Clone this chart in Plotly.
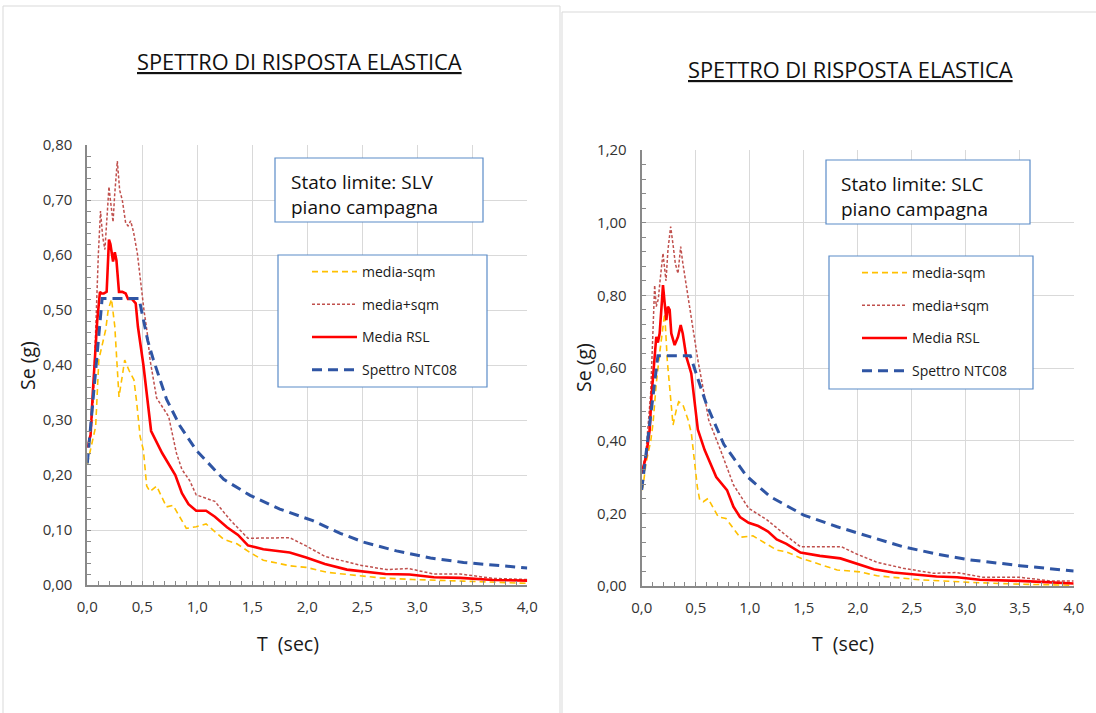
import plotly.graph_objects as go

# ---------------- DATA ----------------
# Left chart: Stato limite SLV
L_T_minus = [0, 0.03, 0.076, 0.105, 0.14, 0.167, 0.19, 0.22, 0.25, 0.27, 0.288, 0.318, 0.34, 0.38, 0.424,
             0.45, 0.48, 0.51, 0.54, 0.57, 0.63, 0.72, 0.78, 0.90, 0.99, 1.08, 1.24, 1.36, 1.48, 1.60, 1.84,
             1.99, 2.18, 2.66, 2.96, 3.42, 4.0]
L_V_minus = [0.22, 0.245, 0.288, 0.41, 0.44, 0.464, 0.50, 0.52, 0.47, 0.40, 0.342, 0.38, 0.409, 0.39, 0.373,
             0.33, 0.27, 0.245, 0.18, 0.17, 0.18, 0.142, 0.145, 0.103, 0.106, 0.111, 0.083, 0.075, 0.059, 0.045,
             0.035, 0.032, 0.023, 0.013, 0.010, 0.007, 0.003]

L_T_plus = [0, 0.03, 0.055, 0.08, 0.10, 0.12, 0.14, 0.16, 0.197, 0.21, 0.234, 0.249, 0.273, 0.294, 0.318,
            0.349, 0.37, 0.394, 0.42, 0.455, 0.485, 0.515, 0.545, 0.57, 0.63, 0.74, 0.81, 0.86, 0.93, 0.99,
            1.16, 1.30, 1.46, 1.84, 1.99, 2.16, 2.48, 2.72, 2.92, 3.15, 3.39, 3.69, 4.0]
L_V_plus = [0.25, 0.27, 0.34, 0.50, 0.60, 0.68, 0.633, 0.61, 0.724, 0.70, 0.66, 0.71, 0.771, 0.718, 0.70,
            0.658, 0.653, 0.662, 0.642, 0.603, 0.548, 0.50, 0.458, 0.41, 0.34, 0.306, 0.24, 0.21, 0.19, 0.164,
            0.152, 0.118, 0.085, 0.086, 0.071, 0.052, 0.036, 0.028, 0.030, 0.020, 0.020, 0.012, 0.010]

L_T_rsl = [0, 0.03, 0.05, 0.075, 0.09, 0.115, 0.13, 0.15, 0.176, 0.197, 0.21, 0.234, 0.25, 0.265, 0.288,
           0.318, 0.349, 0.37, 0.405, 0.44, 0.46, 0.51, 0.58, 0.68, 0.80, 0.86, 0.92, 0.99, 1.08, 1.16, 1.27,
           1.37, 1.46, 1.60, 1.84, 1.99, 2.16, 2.36, 2.71, 2.93, 3.15, 3.39, 3.69, 4.0]
L_V_rsl = [0.25, 0.273, 0.35, 0.43, 0.48, 0.533, 0.53, 0.53, 0.533, 0.628, 0.62, 0.588, 0.605, 0.59, 0.533,
           0.533, 0.53, 0.52, 0.52, 0.512, 0.47, 0.40, 0.28, 0.24, 0.20, 0.167, 0.147, 0.135, 0.135, 0.124,
           0.105, 0.091, 0.072, 0.065, 0.059, 0.050, 0.038, 0.028, 0.020, 0.019, 0.014, 0.013, 0.009, 0.008]

L_T_ntc = [0, 0.135, 0.47, 0.515, 0.55, 0.6, 0.72, 0.84, 0.99, 1.24, 1.48, 1.75, 2.05, 2.30, 2.51, 2.81,
           3.12, 3.42, 3.93, 4.0]
L_V_ntc = [0.221, 0.521, 0.521, 0.475, 0.444, 0.41, 0.338, 0.29, 0.245, 0.192, 0.163, 0.138, 0.117, 0.094,
           0.078, 0.062, 0.049, 0.041, 0.032, 0.031]

# Right chart: Stato limite SLC
R_T_minus = [0, 0.012, 0.04, 0.084, 0.105, 0.135, 0.17, 0.213, 0.237, 0.26, 0.275, 0.29, 0.32, 0.342, 0.38,
             0.43, 0.46, 0.484, 0.515, 0.537, 0.57, 0.614, 0.71, 0.78, 0.91, 1.03, 1.25, 1.34, 1.48, 1.81,
             2.02, 2.18, 2.58, 3.04, 3.50, 4.0]
R_V_minus = [0.264, 0.273, 0.338, 0.40, 0.448, 0.558, 0.65, 0.75, 0.62, 0.549, 0.494, 0.443, 0.484, 0.507,
             0.50, 0.457, 0.42, 0.356, 0.273, 0.237, 0.232, 0.241, 0.19, 0.186, 0.134, 0.138, 0.099, 0.094,
             0.076, 0.044, 0.039, 0.028, 0.017, 0.010, 0.005, 0.002]

R_T_plus = [0, 0.04, 0.083, 0.12, 0.135, 0.154, 0.17, 0.197, 0.21, 0.225, 0.243, 0.268, 0.29, 0.311, 0.336,
            0.361, 0.38, 0.429, 0.475, 0.52, 0.583, 0.62, 0.73, 0.85, 0.99, 1.16, 1.37, 1.47, 1.85, 1.99,
            2.18, 2.42, 2.70, 2.92, 3.16, 3.50, 3.78, 4.0]
R_V_plus = [0.31, 0.37, 0.53, 0.828, 0.769, 0.79, 0.84, 0.916, 0.88, 0.84, 0.925, 0.989, 0.94, 0.888, 0.86,
            0.934, 0.89, 0.796, 0.696, 0.622, 0.521, 0.457, 0.374, 0.278, 0.214, 0.182, 0.131, 0.108, 0.108,
            0.088, 0.065, 0.049, 0.035, 0.037, 0.024, 0.024, 0.014, 0.014]

R_T_rsl = [0, 0.04, 0.074, 0.09, 0.12, 0.135, 0.15, 0.166, 0.188, 0.197, 0.21, 0.228, 0.243, 0.259, 0.274,
           0.305, 0.336, 0.361, 0.38, 0.413, 0.459, 0.49, 0.52, 0.583, 0.69, 0.79, 0.85, 0.91, 0.99, 1.08,
           1.17, 1.25, 1.34, 1.47, 1.65, 1.84, 1.99, 2.15, 2.33, 2.73, 2.92, 3.13, 3.50, 4.0]
R_V_rsl = [0.31, 0.356, 0.43, 0.52, 0.631, 0.686, 0.67, 0.695, 0.787, 0.828, 0.787, 0.732, 0.769, 0.76, 0.695,
           0.663, 0.686, 0.718, 0.695, 0.631, 0.585, 0.512, 0.43, 0.374, 0.30, 0.264, 0.218, 0.19, 0.174,
           0.165, 0.150, 0.128, 0.116, 0.092, 0.083, 0.076, 0.062, 0.046, 0.037, 0.026, 0.024, 0.017, 0.014,
           0.007]

R_T_ntc = [0, 0.15, 0.45, 0.49, 0.537, 0.60, 0.76, 0.97, 1.19, 1.50, 1.81, 2.11, 2.42, 2.73, 3.04, 3.50, 4.0]
R_V_ntc = [0.265, 0.634, 0.634, 0.60, 0.555, 0.50, 0.39, 0.303, 0.246, 0.195, 0.163, 0.136, 0.108, 0.088,
           0.072, 0.056, 0.041]

SERIES_NAMES = ["media-sqm", "media+sqm", "Media RSL", "Spettro NTC08"]
X_TICKS = [0, 0.5, 1.0, 1.5, 2.0, 2.5, 3.0, 3.5, 4.0]
TITLE = "SPETTRO DI RISPOSTA ELASTICA"
X_TITLE = "T\u00a0\u00a0(sec)"
Y_TITLE = "Se (g)"
BOX_LEFT = "Stato limite: SLV<br>piano campagna"
BOX_RIGHT = "Stato limite: SLC<br>piano campagna"

# ---------------- STYLE ----------------
W, H = 1096, 713
FONT = "Open Sans"
STYLES = [
    dict(color="#FFC000", width=1.6, dash="6px,4px"),
    dict(color="#C0504D", width=1.5, dash="3px,2px"),
    dict(color="#FF0000", width=2.6, dash="solid"),
    dict(color="#2F55A4", width=3, dash="10px,6px"),
]


def px(x):
    return x / W


def py(y):
    return 1 - y / H


fig = go.Figure()

left_data = [(L_T_minus, L_V_minus), (L_T_plus, L_V_plus), (L_T_rsl, L_V_rsl), (L_T_ntc, L_V_ntc)]
right_data = [(R_T_minus, R_V_minus), (R_T_plus, R_V_plus), (R_T_rsl, R_V_rsl), (R_T_ntc, R_V_ntc)]

for i, ((t, v), st) in enumerate(zip(left_data, STYLES)):
    fig.add_trace(go.Scatter(x=t, y=v, mode="lines", name=SERIES_NAMES[i], line=st,
                             xaxis="x", yaxis="y", legend="legend", legendgroup="L%d" % i,
                             hoverinfo="skip"))
for i, ((t, v), st) in enumerate(zip(right_data, STYLES)):
    fig.add_trace(go.Scatter(x=t, y=v, mode="lines", name=SERIES_NAMES[i], line=st,
                             xaxis="x2", yaxis="y2", legend="legend2", legendgroup="R%d" % i,
                             hoverinfo="skip"))

tickfont = dict(family=FONT, size=15, color="#333333")


def xax(domain, anchor):
    return dict(domain=domain, anchor=anchor, range=[0, 4], tickvals=X_TICKS, tickformat=".1f",
                showgrid=True, gridcolor="#d9d9d9", gridwidth=1, zeroline=False,
                showline=True, linecolor="#898989", linewidth=2,
                ticks="inside", ticklen=4, tickcolor="#898989",
                minor=dict(dtick=0.1, ticks="inside", ticklen=4, tickcolor="#898989", showgrid=False),
                tickfont=tickfont, ticklabelstandoff=7, fixedrange=True, automargin=False)


def yax(domain, anchor, top, dtick, mdtick):
    return dict(domain=domain, anchor=anchor, range=[0, top], dtick=dtick, tickformat=".2f",
                showgrid=True, gridcolor="#d9d9d9", gridwidth=1, zeroline=False,
                showline=True, linecolor="#898989", linewidth=2,
                ticks="inside", ticklen=4, tickcolor="#898989",
                minor=dict(dtick=mdtick, ticks="inside", ticklen=4, tickcolor="#898989", showgrid=False),
                tickfont=tickfont, ticklabelstandoff=10, fixedrange=True, automargin=False)


legend_common = dict(bgcolor="rgba(0,0,0,0)", borderwidth=0, font=dict(family=FONT, size=14, color="#1a1a1a"),
                     tracegroupgap=11.5, itemwidth=45, xanchor="left", yanchor="top",
                     itemclick=False, itemdoubleclick=False)

fig.update_layout(
    width=W, height=H, autosize=False,
    margin=dict(l=0, r=0, t=0, b=0, pad=0, autoexpand=False),
    paper_bgcolor="white", plot_bgcolor="white",
    separators=",.",
    xaxis=xax([px(87.3), px(527.3)], "y"),
    yaxis=yax([py(585), py(145)], "x", 0.8, 0.1, 0.02),
    xaxis2=xax([px(641.7), px(1073.7)], "y2"),
    yaxis2=yax([py(586), py(150)], "x2", 1.2, 0.2, 0.04),
    legend=dict(x=px(307), y=py(256), **legend_common),
    legend2=dict(x=px(857), y=py(257), **legend_common),
)

shapes = []
# panel borders
shapes.append(dict(type="rect", xref="paper", yref="paper", x0=px(3), x1=px(560), y0=-0.02, y1=py(6),
                   line=dict(color="#d9d9d9", width=1), fillcolor="rgba(0,0,0,0)", layer="below"))
shapes.append(dict(type="rect", xref="paper", yref="paper", x0=px(562), x1=1.02, y0=-0.02, y1=py(12),
                   line=dict(color="#d9d9d9", width=1), fillcolor="rgba(0,0,0,0)", layer="below"))
# text boxes and legend boxes
BOX_LINE = "#5B8CC8"
for (x0, y0, x1, y1) in [(275, 158, 483, 222), (278, 255, 487, 387),
                         (826, 160, 1030, 224), (829, 256, 1033, 389)]:
    shapes.append(dict(type="rect", xref="paper", yref="paper", x0=px(x0), x1=px(x1), y0=py(y1), y1=py(y0),
                       line=dict(color=BOX_LINE, width=1.2), fillcolor="white", layer="above"))
fig.update_layout(shapes=shapes)

ann = []
for cx, cy in [(299, 62), (850, 69)]:
    ann.append(dict(text="<u>%s</u>" % TITLE, x=px(cx), y=py(cy), xref="paper", yref="paper",
                    showarrow=False, xanchor="center", yanchor="middle",
                    font=dict(family=FONT, size=21.8, color="#111")))
for cx, cy in [(288, 643), (843, 643)]:
    ann.append(dict(text=X_TITLE, x=px(cx), y=py(cy), xref="paper", yref="paper",
                    showarrow=False, xanchor="center", yanchor="middle",
                    font=dict(family=FONT, size=19.5, color="#1a1a1a")))
for cx, cy in [(27, 366), (583, 368)]:
    ann.append(dict(text=Y_TITLE, x=px(cx), y=py(cy), xref="paper", yref="paper", textangle=-90,
                    showarrow=False, xanchor="center", yanchor="middle",
                    font=dict(family=FONT, size=19.5, color="#1a1a1a")))
for txt, lx, cy in [(BOX_LEFT, 289, 194), (BOX_RIGHT, 839, 196)]:
    ann.append(dict(text=txt, x=px(lx), y=py(cy), xref="paper", yref="paper", align="left",
                    showarrow=False, xanchor="left", yanchor="middle",
                    font=dict(family=FONT, size=19, color="#111")))
fig.update_layout(annotations=ann)

fig.write_html("out.html", config=dict(displayModeBar=False, staticPlot=True),
               post_script="document.body.style.margin='0';document.body.style.overflow='hidden';")
